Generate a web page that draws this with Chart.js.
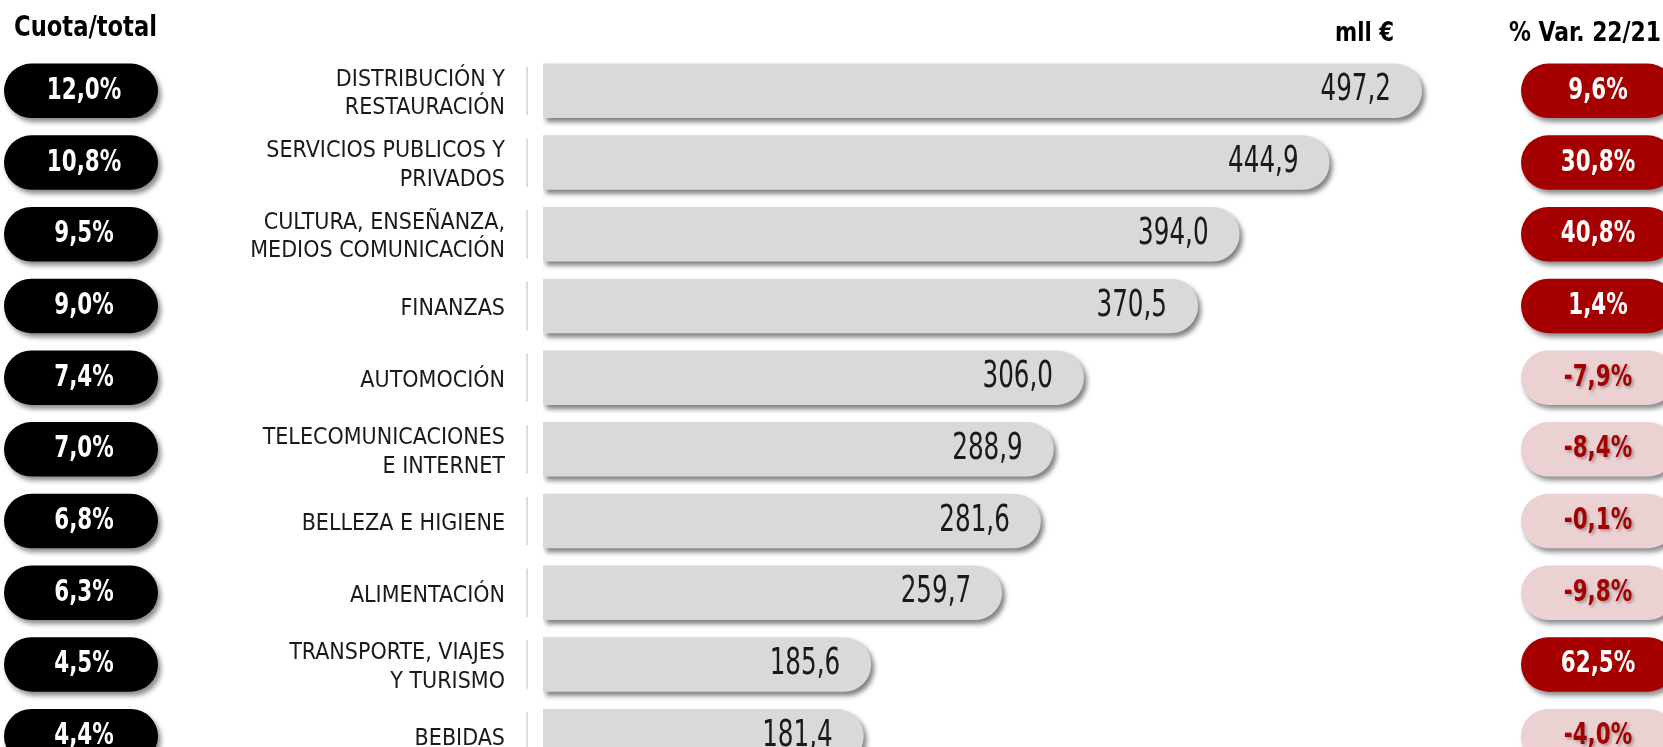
<!DOCTYPE html>
<html>
<head>
<meta charset="utf-8">
<title>Inversión por sectores</title>
<script src="https://cdn.jsdelivr.net/npm/chart.js@4"></script>
<style>
	html, body { margin: 0; padding: 0; background: #fff; overflow: hidden; }
	#chart { display: block; }
</style>
</head>
<body>
<canvas id="chart" width="1663" height="790"></canvas>
<script>
// data
var sectors = [
	["DISTRIBUCIÓN Y", "RESTAURACIÓN"],
	["SERVICIOS PUBLICOS Y", "PRIVADOS"],
	["CULTURA, ENSEÑANZA,", "MEDIOS COMUNICACIÓN"],
	"FINANZAS",
	"AUTOMOCIÓN",
	["TELECOMUNICACIONES", "E INTERNET"],
	"BELLEZA E HIGIENE",
	"ALIMENTACIÓN",
	["TRANSPORTE, VIAJES", "Y TURISMO"],
	"BEBIDAS"
];
var inversion = [497.2, 444.9, 394.0, 370.5, 306.0, 288.9, 281.6, 259.7, 185.6, 181.4]; // mll €
var cuota = [12.0, 10.8, 9.5, 9.0, 7.4, 7.0, 6.8, 6.3, 4.5, 4.4];              // % del total
var variacion = [9.6, 30.8, 40.8, 1.4, -7.9, -8.4, -0.1, -9.8, 62.5, -4.0];     // % var 22/21
var headLeft = "Cuota/total";
var headUnit = "mll €";
var headVar = "% Var. 22/21";

var FONT = "'DejaVu Sans Condensed', 'Liberation Sans Narrow', sans-serif";
var RED = "#a50000";
var PINK = "#ebd1d2";

function fmt(v, pct) {
	var s = v.toFixed(1).replace(".", ",");
	return pct ? s + "%" : s;
}

//draw text squeezed horizontally (original uses a narrower face)
function squeeze(ctx, text, x, y, sx) {
	ctx.save();
	ctx.translate(x, y);
	ctx.scale(sx, 1);
	ctx.fillText(text, 0, 0);
	ctx.restore();
}

//rounded pill with soft shadow
function pill(ctx, x, y, w, h, color) {
	ctx.save();
	ctx.shadowColor = "rgba(0,0,0,0.45)";
	ctx.shadowOffsetX = 3;
	ctx.shadowOffsetY = 4;
	ctx.shadowBlur = 5;
	ctx.fillStyle = color;
	ctx.beginPath();
	ctx.roundRect(x, y, w, h, h / 2);
	ctx.fill();
	ctx.restore();
}

var barShadow = {
	id: "barShadow",
	beforeDatasetDraw: function (chart) {
		var ctx = chart.ctx;
		ctx.save();
		ctx.shadowColor = "rgba(0,0,0,0.5)";
		ctx.shadowOffsetX = 3;
		ctx.shadowOffsetY = 4;
		ctx.shadowBlur = 5;
	},
	afterDatasetDraw: function (chart) {
		chart.ctx.restore();
	}
};

var extras = {
	id: "extras",
	afterDraw: function (chart) {
		var ctx = chart.ctx;
		var meta = chart.getDatasetMeta(0);
		var yScale = chart.scales.y;
		ctx.save();
		ctx.textBaseline = "middle";
		meta.data.forEach(function (bar, i) {
			var y = yScale.getPixelForValue(i);
			var h = bar.height;

			//separator line between label and bar
			ctx.fillStyle = "#dcdcdc";
			ctx.fillRect(526, y - h / 2 + 3, 2, h - 6);

			//value inside the bar end
			ctx.fillStyle = "#1a1a1a";
			ctx.font = "37px " + FONT;
			ctx.textAlign = "right";
			squeeze(ctx, fmt(inversion[i]), bar.x - 31, y, 0.74);

			//left pill: share of total
			pill(ctx, 4, y - h / 2, 154, h, "#000");
			ctx.fillStyle = "#fff";
			ctx.font = "bold 31px " + FONT;
			ctx.textAlign = "center";
			squeeze(ctx, fmt(cuota[i], true), 84, y, 0.77);

			//right pill: yearly change
			var up = variacion[i] >= 0;
			pill(ctx, 1521, y - h / 2, 154, h, up ? RED : PINK);
			ctx.save();
			if (!up) {
				ctx.shadowColor = "rgba(0,0,0,0.3)";
				ctx.shadowOffsetX = 2;
				ctx.shadowOffsetY = 2;
				ctx.shadowBlur = 3;
			}
			ctx.fillStyle = up ? "#fff" : RED;
			squeeze(ctx, fmt(variacion[i], true), 1598, y, 0.77);
			ctx.restore();
		});

		//headers
		ctx.fillStyle = "#000";
		ctx.textBaseline = "alphabetic";
		ctx.font = "bold 28px " + FONT;
		ctx.textAlign = "left";
		ctx.fillText(headLeft, 14, 36, 143);
		ctx.font = "bold 26px " + FONT;
		ctx.textAlign = "right";
		ctx.fillText(headUnit, 1394, 41, 59);
		ctx.textAlign = "left";
		ctx.fillText(headVar, 1509, 41, 152);
		ctx.restore();
	}
};

new Chart("chart", {
	type: "bar",
	data: {
		labels: sectors,
		datasets: [{
			data: inversion,
			backgroundColor: "#d9d9d9",
			borderWidth: 0,
			borderRadius: 27,
			borderSkipped: "start",
			categoryPercentage: 1,
			barPercentage: 0.76
		}]
	},
	options: {
		indexAxis: "y",
		responsive: false,
		animation: false,
		events: [],
		layout: { padding: { left: 0, top: 55, right: 183, bottom: 18 } },
		plugins: {
			legend: { display: false },
			tooltip: { enabled: false }
		},
		scales: {
			x: {
				display: false,
				min: 0,
				max: 530
			},
			y: {
				afterFit: function (scale) {
					scale.width = 543;
					// keep label padding from eating the plot height
					scale.paddingTop = 0;
					scale.paddingBottom = 0;
				},
				grid: { display: false, drawTicks: false },
				border: { display: false },
				ticks: {
					padding: 38,
					labelOffset: 3,
					color: "#1a1a1a",
					font: { family: FONT, size: 23, lineHeight: 1.24 }
				}
			}
		}
	},
	plugins: [barShadow, extras]
});
</script>
</body>
</html>
